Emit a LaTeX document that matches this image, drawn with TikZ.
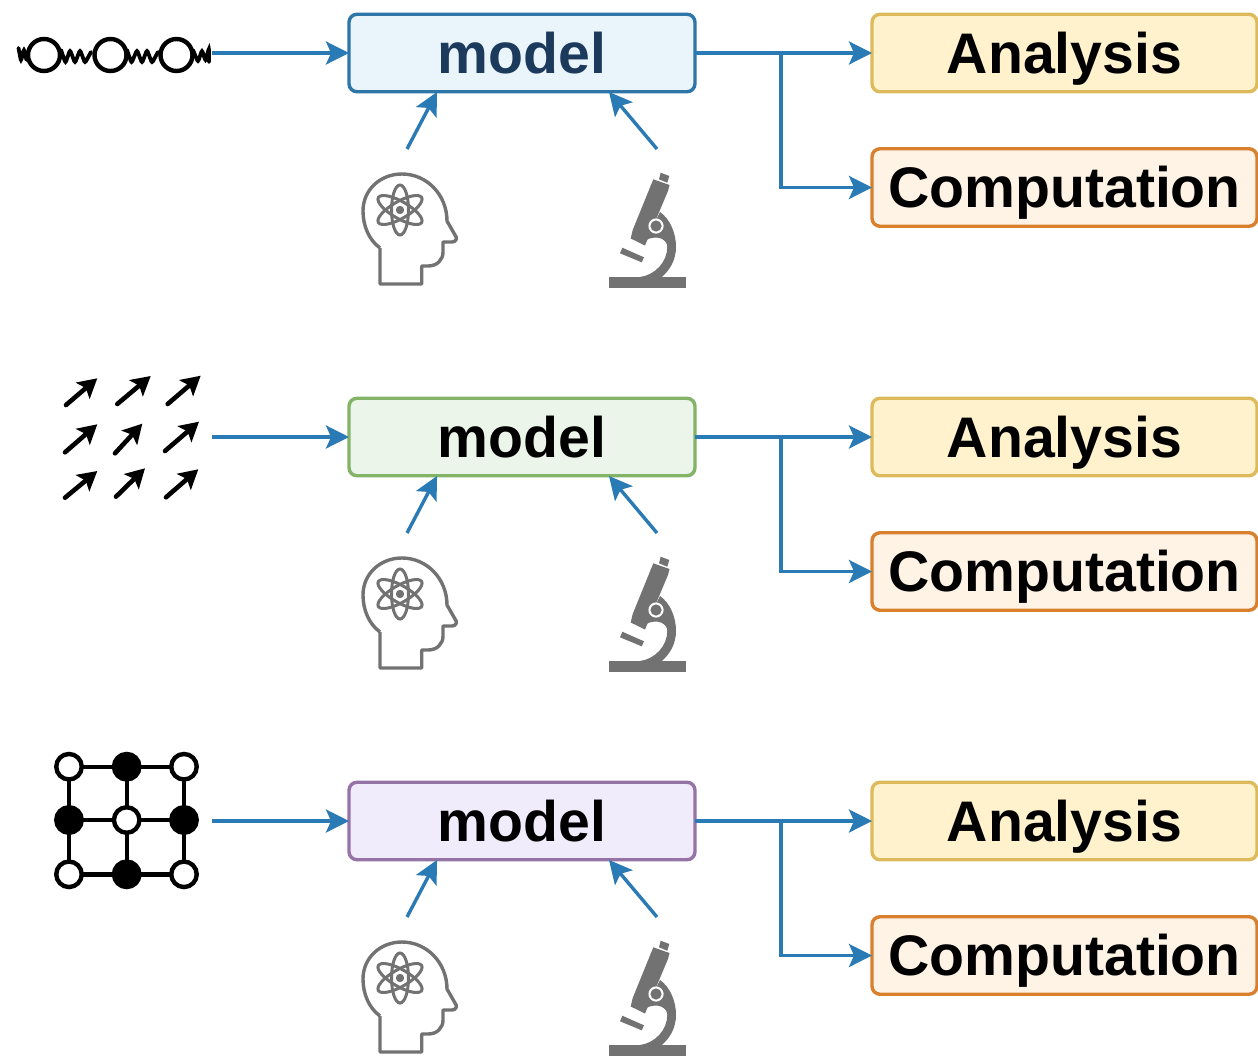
\documentclass[tikz,border=0pt]{standalone}
\usepackage{fontspec}
\setmainfont{Liberation Sans}
\usetikzlibrary{arrows.meta}
\definecolor{flow}{HTML}{2A7AB5}
\definecolor{icon}{HTML}{727272}
\definecolor{mAfill}{HTML}{EAF4FB}\definecolor{mAdraw}{HTML}{2E75A8}\definecolor{mAtext}{HTML}{1B3A5C}
\definecolor{mBfill}{HTML}{EBF5EA}\definecolor{mBdraw}{HTML}{82B366}\definecolor{mBtext}{HTML}{000000}
\definecolor{mCfill}{HTML}{F1ECFC}\definecolor{mCdraw}{HTML}{9673A6}\definecolor{mCtext}{HTML}{000000}
\definecolor{anaFill}{HTML}{FFF2CC}\definecolor{anaDraw}{HTML}{DDBB5C}
\definecolor{compFill}{HTML}{FFF3E6}\definecolor{compDraw}{HTML}{D9802E}
\tikzset{
  box/.style={rounded corners=8pt,line width=3.4pt,outer sep=0pt,inner sep=0pt,
    text height=42pt,text depth=1.4pt,minimum height=77.5pt,
    font=\fontsize{57.2}{57.2}\selectfont\bfseries},
  modelbox/.style={box,minimum width=346pt},
  sidebox/.style={box,minimum width=385pt},
  flowline/.style={draw=flow,line width=3.4pt,-{Stealth[length=23pt,width=23pt,inset=5pt]}},
  iconline/.style={draw=icon,line width=3.4pt,line join=round},
  atom/.style={draw=icon,line width=3pt},
  spin/.style={draw=black,line width=4.6pt,line cap=round,
     -{Stealth[length=19pt,width=21pt,inset=4pt]}},
  chainring/.style={draw=black,line width=4.4pt},
  chainline/.style={draw=black,line width=3.8pt,line cap=round,rounded corners=2pt},
  lat/.style={draw=black,line width=4.4pt},
  site/.style={circle,draw=black,line width=4.4pt,minimum size=25.5pt,inner sep=0pt,fill=white},
  siteb/.style={site,fill=black},
}
\begin{document}
\begin{tikzpicture}[x=1pt,y=-1pt]
\clip (0,0) rectangle (1258,1055);
\fill[white] (0,0) rectangle (1258,1055);

\foreach \r/\off/\cA/\cB/\cC in {1/0/mAfill/mAdraw/mAtext,2/384/mBfill/mBdraw/mBtext,3/768/mCfill/mCdraw/mCtext}{
\begin{scope}[shift={(0,\off)}]
  \node[modelbox,draw=\cB,fill=\cA,text=\cC] (model\r) at (522,53) {model};
  \node[sidebox,draw=anaDraw,fill=anaFill] (ana\r) at (1064.5,53) {Analysis};
  \node[sidebox,draw=compDraw,fill=compFill] (comp\r) at (1064.5,187.5) {Computation};
  \coordinate (in\r) at (212,53);
  \coordinate (branch\r) at (781,53);
  \coordinate (headtop\r) at (407,149);
  \coordinate (headin\r) at (437,92);
  \coordinate (scopetop\r) at (657,149);
  \coordinate (scopein\r) at (609,92);
  \draw[flowline] (in\r) -- (model\r.west);
  \draw[flowline] (model\r.east) -- (ana\r.west);
  \draw[flowline] (branch\r) |- (comp\r.west);
  \draw[flowline] (headtop\r) -- (headin\r);
  \draw[flowline] (scopetop\r) -- (scopein\r);
  % head
  \draw[iconline] (380,248) -- (380,284) -- (421.7,284) -- (421.7,266) -- (428,266)
    .. controls (437,266) and (443,260) .. (443,252) -- (443,242) -- (452,242)
    .. controls (456,242) and (458,238) .. (455,235) -- (447,221)
    .. controls (447,195) and (427,174) .. (402,174)
    .. controls (380,174) and (363,190) .. (363,211)
    .. controls (363,226) and (369,240) .. (380,248);
  \draw[atom] (400,210) ellipse [x radius=8.5,y radius=25];
  \draw[atom,rotate around={60:(400,210)}] (400,210) ellipse [x radius=8.5,y radius=25];
  \draw[atom,rotate around={-60:(400,210)}] (400,210) ellipse [x radius=8.5,y radius=25];
  \fill[icon] (400,210) circle (4.2);
  % microscope
  \fill[icon] (609.3,276.7) rectangle (686,288.3);
  \fill[icon] (660.7,172.7) -- (669.3,176) -- (667.3,182.7) -- (659,179.3) -- cycle;
  \fill[icon] (653.3,179.3) -- (669.5,185) -- (668,191) -- (645,245.5) -- (630.7,238.5) -- (632.7,230) -- cycle;
  \fill[icon] (660,212) .. controls (670,219) and (676,233) .. (676,246.7)
    .. controls (676,260) and (670,270) .. (661.7,277) -- (640,277)
    .. controls (655,275) and (667.3,262) .. (667.3,246.7)
    .. controls (667.3,240) and (658,234) .. (646,240) -- cycle;
  \fill[icon] (622.3,247.7) -- (644,257.3) -- (641.7,262.3) -- (620,253.3) -- cycle;
  \fill[white] (656,226) circle (7.6);
  \fill[icon] (656,226) circle (5.6);
\end{scope}}

% chain of circles
\foreach \n/\x in {a/44,b/110.5,c/176.5}{
  \draw[chainring] (\x,55) circle (16);
}
\draw[chainline] (18.5,48) -- (21,61) -- (24,49) -- (26.5,60);
\draw[chainline] (61,50) -- (65.5,63) -- (70,50) -- (75,63) -- (80,50) -- (85,63) -- (91,52);
\draw[chainline] (127,50) -- (131.5,63) -- (137,50) -- (142,63) -- (147,50) -- (152,63) -- (158,52);
\draw[chainline] (193,50) -- (198,62) -- (202,50) -- (205.5,61) -- (209,48) -- (209,62);

% spins
\foreach \xa/\ya/\xb/\yb in {66/405/97.3/378.3,117.3/404/150.7/376,167.7/404/200.7/375.7,
  65/452.3/97.3/424.3,115/453.3/142.3/423.7,165/451/199/421.7,
  65/497.7/97.3/471,116/496.7/145/468.3,166/497.3/198.3/469.3}{
  \draw[spin] (\xa,\ya) -- (\xb,\yb);
}

% lattice
\draw[lat] (69,766.7) rectangle (184,874.3);
\draw[lat] (126.7,766.7) -- (126.7,874.3);
\draw[lat] (69,820) -- (184,820);
\node[site] (s11) at (69,766.7) {};
\node[siteb] (s12) at (126.7,766.7) {};
\node[site] (s13) at (184,766.7) {};
\node[siteb] (s21) at (69,820) {};
\node[site] (s22) at (126.7,820) {};
\node[siteb] (s23) at (184,820) {};
\node[site] (s31) at (69,874.3) {};
\node[siteb] (s32) at (126.7,874.3) {};
\node[site] (s33) at (184,874.3) {};
\end{tikzpicture}
\end{document}
